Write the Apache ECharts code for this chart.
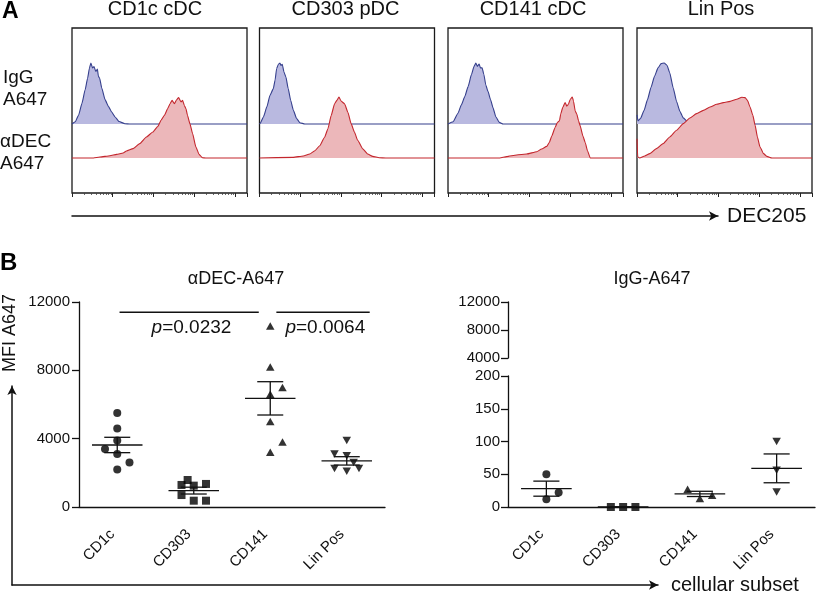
<!DOCTYPE html>
<html>
<head>
<meta charset="utf-8">
<script src="https://cdn.jsdelivr.net/npm/echarts@6/dist/echarts.min.js"></script>
<style>html,body{margin:0;padding:0;background:#fff}#c{width:817px;height:595px}</style>
</head>
<body>
<div id="c"></div>
<script>
// ---------------- DATA ----------------
const boxTitles = ['CD1c cDC', 'CD303 pDC', 'CD141 cDC', 'Lin Pos'];
// histograms: [x (% of axis width), y (% of mode)]
const histIgG_CD1c = [[0,0],[1.9,3.8],[3.8,14.8],[5.7,34],[7.5,56],[8.9,75],[10,92],[10.8,100],[11.7,92],[12.6,94],[13.6,86],[14.5,90],[15.1,78],[15.8,75],[17,59],[18.9,40],[20.8,29],[22.6,20],[24.5,12],[26.9,4],[30.2,0.5],[33,0],[100,0]];
const histDEC_CD1c = [[0,0],[12.3,0],[16,1.6],[21.7,3.8],[25.5,6],[29.2,8.2],[31.1,11.5],[34.9,15.3],[38.7,23.5],[42.5,34.4],[46.2,42.6],[49.1,52],[50.9,62],[52.8,70],[54.7,81],[56,89],[57.2,94.5],[58.5,89],[59.8,95.6],[60.9,99],[62.3,92],[63.2,94.5],[64.2,86],[65.1,81],[66,70],[67.4,56],[68.9,40],[70.8,18],[72.6,6],[74.5,0.5],[76.4,0],[100,0]];
const histIgG_CD303 = [[0,0],[0.4,1],[2.3,12],[4.2,28],[6,47],[7.9,58],[8.9,72],[9.8,91],[10.8,98],[11.7,100],[12.3,96],[13,98],[14,85],[15.1,77],[16.4,58],[17.8,39],[19.3,23],[21.2,9],[23.1,2],[25.9,0],[100,0]];
const histDEC_CD303 = [[0,0],[19.3,1.1],[25,3.3],[28.7,6.6],[31.6,12],[34.4,20],[37.2,34],[39.1,48],[41,70],[42.9,89],[44.2,94.5],[45.4,100],[46.7,93],[48.6,89],[50.5,75],[52.4,56],[54.3,42],[56.1,29],[59,15],[61.8,6.6],[64.7,2.7],[68.4,0.5],[72.2,0],[100,0]];
const histIgG_CD141 = [[0,0],[2.9,3.8],[5.7,17.6],[7.6,31],[9.6,45],[11.5,61.5],[13.4,81],[14.9,94.5],[15.9,100],[16.8,94.5],[17.8,98.4],[18.5,92],[19.5,92],[20.5,81],[21.6,64],[22.9,53],[24.3,40],[25.8,26],[27.3,12],[29.3,2.7],[31.5,0],[100,0]];
const histDEC_CD141 = [[0,0],[29.6,0],[33.5,2.2],[39.2,4.9],[44.9,6.5],[50.7,10.3],[53.5,14.7],[56.4,19],[57.9,25.5],[59.3,36],[61.2,50],[62.5,58],[63.7,61],[64.4,72],[65.6,83],[66.9,91],[67.9,85],[68.8,88],[69.8,96],[71,100],[71.7,93.5],[72.7,77],[73.6,72],[74.6,61],[75.5,53],[77.1,36],[78.4,25.5],[79.7,12],[81.3,0],[100,0]];
const histIgG_Lin = [[0,15],[0.6,5],[2,9],[4,22],[6,40],[8,60],[10,78],[12,92],[13.8,99],[15.5,100],[17.2,96],[18.7,84],[20.7,59],[22.6,37],[24.5,21],[26.4,10],[29.3,3],[33,0.5],[36,0],[100,0]];
const histDEC_Lin = [[0,31.7],[0.4,2],[1.5,0],[4.4,3.3],[7.3,7.1],[11.1,15.3],[14.9,23.5],[18.7,34.4],[22.6,45.4],[26.4,56.3],[30.2,65.6],[34,72.7],[37.9,78.1],[41.7,83.6],[45.5,88],[49.3,90.7],[53.2,92.9],[57,96.2],[59.9,99.5],[61.8,98.9],[63.1,94.5],[64.6,83.6],[66.2,69.9],[67.5,53.6],[68.8,34.4],[70.3,18],[72.3,7.1],[74.2,2.7],[77.1,0],[100,0]];

const categories = ['CD1c', 'CD303', 'CD141', 'Lin Pos'];
const decValues = [
  [5500, 4600, 3900, 3400, 3100, 2600, 2200],
  [1580, 1290, 1250, 1350, 700, 370, 370],
  [10600, 8200, 7000, 6600, 5000, 3800, 3200],
  [3900, 3100, 3000, 2600, 2250, 2100, 2250]
];
const decJitter = [
  [0, 0, 0, -0.16, 0, 0.16, 0],
  [-0.08, -0.16, 0, 0.16, -0.16, 0, 0.16],
  [0, 0, 0.16, 0, 0, 0.16, 0],
  [0, -0.16, 0, 0.09, -0.16, 0, 0.16]
];
const decMean = [3630, 960, 6360, 2700];
const decSem = [450, 200, 975, 245];
const igValues = [[50, 22, 12], [0, 0, 0], [27, 13, 18], [100, 56, 23]];
const igJitter = [[0, 0.16, 0], [-0.16, 0, 0.16], [-0.16, 0, 0.16], [0, 0, 0]];
const igMean = [28, 0, 20, 59];
const igSem = [11.5, 0, 4, 22];
const sigBars = [[0.03, 1.85, 11400], [2.08, 3.3, 11400]];
const pTextPos = [[0.97, 10500], [2.72, 10500]];
const pValues = ['0.0232', '0.0064'];
const decTicks = {min: 0, max: 12000, interval: 4000};
const igLowTicks = {min: 0, max: 200, interval: 50};
const igHighTicks = {min: 4000, max: 12000, interval: 4000};

// ---------------- CHART ----------------
const FF = '"Liberation Sans", Arial, sans-serif';
const INK = '#111';
const chart = echarts.init(document.getElementById('c'), null, {renderer: 'canvas'});

const grid = [], xAxis = [], yAxis = [], series = [], graphic = [];
function addGrid(g) { grid.push(g); return grid.length - 1; }
function addX(a) { xAxis.push(a); return xAxis.length - 1; }
function addY(a) { yAxis.push(a); return yAxis.length - 1; }

// ---- Panel A: histograms ----
const boxLeft = [72, 259.5, 448, 637];
const boxW = 175, boxTop = 28, boxH = 165;
const hists = [[histIgG_CD1c, histDEC_CD1c], [histIgG_CD303, histDEC_CD303], [histIgG_CD141, histDEC_CD141], [histIgG_Lin, histDEC_Lin]];
const boxTitleX = [155, 345.5, 533, 721];
for (let b = 0; b < 4; b++) {
  const gf = addGrid({left: boxLeft[b], top: boxTop, width: boxW, height: boxH, show: true, borderColor: '#1a1a1a', borderWidth: 1.3, backgroundColor: 'transparent'});
  addX({type: 'log', gridIndex: gf, min: 1, max: 20000, position: 'bottom', axisLine: {show: false},
    axisTick: {show: true, length: 4, lineStyle: {color: '#222', width: 1}},
    minorTick: {show: true, splitNumber: 9, length: 2, lineStyle: {color: '#444', width: 0.8}},
    axisLabel: {show: false}, splitLine: {show: false}});
  addY({type: 'value', gridIndex: gf, show: false});
  const specs = [{top: 63, line: '#353f8c', fill: '#b9b9e0', z: 3}, {top: 97, line: '#c3262d', fill: '#ecb7ba', z: 4}];
  for (let k = 0; k < 2; k++) {
    const g = addGrid({left: boxLeft[b], top: specs[k].top, width: boxW, height: 61});
    const xi = addX({type: 'value', gridIndex: g, min: 0, max: 100, show: false});
    const yi = addY({type: 'value', gridIndex: g, min: 0, max: 100, show: false});
    series.push({type: 'line', xAxisIndex: xi, yAxisIndex: yi, data: hists[b][k], symbol: 'none', clip: false,
      smooth: 0.15, smoothMonotone: 'x', z: specs[k].z,
      lineStyle: {color: specs[k].line, width: 1.1}, areaStyle: {color: specs[k].fill, opacity: 1, origin: 'start'}});
  }
  graphic.push({type: 'text', x: boxTitleX[b], y: 9, style: {text: boxTitles[b], font: '20px ' + FF, fill: INK, align: 'center', verticalAlign: 'middle'}});
}
// DEC205 arrow axis
const gA = addGrid({left: 72, top: 216, width: 646, height: 10});
addX({type: 'value', gridIndex: gA, position: 'top', min: 0, max: 1,
  axisLine: {show: true, onZero: false, symbol: ['none', 'arrow'], symbolSize: [7, 9], lineStyle: {color: INK, width: 1.5}},
  axisTick: {show: false}, axisLabel: {show: false}, splitLine: {show: false},
  name: 'DEC205', nameLocation: 'end', nameGap: 9, nameTextStyle: {fontSize: 21, fontFamily: FF, color: INK, verticalAlign: 'middle'}});
addY({type: 'value', gridIndex: gA, show: false});

// ---- Panel B ----
const axisStyle = {onZero: false, lineStyle: {color: INK, width: 1.3}};
const tickLbl = {fontSize: 15, fontFamily: FF, color: INK};
const plain = v => String(v);
function valueAxis(gi, ticks, margin) {
  return Object.assign({type: 'value', gridIndex: gi, position: 'left',
    axisLine: {show: true, onZero: false, lineStyle: {color: INK, width: 1.3}},
    axisTick: {show: true, length: 7, lineStyle: {color: INK, width: 1.3}},
    axisLabel: Object.assign({margin: margin, formatter: plain}, tickLbl), splitLine: {show: false}}, ticks);
}
function catAxis(gi) {
  return {type: 'category', gridIndex: gi, data: categories, boundaryGap: true, position: 'bottom', axisLine: axisStyle,
    axisTick: {alignWithLabel: true, length: 6, lineStyle: {color: INK, width: 1.3}},
    axisLabel: Object.assign({rotate: 45, margin: 20, padding: [0, 7, 0, 0], interval: 0}, tickLbl), splitLine: {show: false}};
}
// left plot
const gL = addGrid({left: 79, top: 302, width: 306, height: 205});
addX(catAxis(gL));
const xLv = addX({type: 'value', gridIndex: gL, min: -0.5, max: 3.5, show: false});
const yL = addY(valueAxis(gL, decTicks, 9));
// right lower
const gR = addGrid({left: 508, top: 376, width: 307, height: 131});
addX(catAxis(gR));
const xRv = addX({type: 'value', gridIndex: gR, min: -0.5, max: 3.5, show: false});
const yR = addY(valueAxis(gR, igLowTicks, 8));
// right upper (broken axis)
const gRU = addGrid({left: 508, top: 302, width: 307, height: 56});
addX({type: 'value', gridIndex: gRU, show: false});
addY(valueAxis(gRU, igHighTicks, 8));
// big B arrows
const gB = addGrid({left: 12, top: 386, width: 646, height: 202});
addX({type: 'value', gridIndex: gB, min: 0, max: 1, position: 'bottom',
  axisLine: {show: true, onZero: false, symbol: ['none', 'arrow'], symbolSize: [7, 9], lineStyle: {color: INK, width: 1.5}},
  axisTick: {show: false}, axisLabel: {show: false}, splitLine: {show: false},
  name: 'cellular subset', nameLocation: 'end', nameGap: 13, nameTextStyle: {fontSize: 20, fontFamily: FF, color: INK, verticalAlign: 'middle'}});
addY({type: 'value', gridIndex: gB, min: 0, max: 1, position: 'left',
  axisLine: {show: true, onZero: false, symbol: ['none', 'arrow'], symbolSize: [7, 9], lineStyle: {color: INK, width: 1.5}},
  axisTick: {show: false}, axisLabel: {show: false}, splitLine: {show: false}});

const symbols = ['circle', 'rect', 'triangle', 'triangle'];
const symRot = [0, 0, 0, 180];
const symSize = [8, 8, [8.5, 7.5], [8.5, 7.5]];
function addScatter(values, jitter, xi, yi) {
  for (let k = 0; k < 4; k++) {
    series.push({type: 'scatter', xAxisIndex: xi, yAxisIndex: yi, z: 5, clip: false,
      data: values[k].map((v, j) => [k + jitter[k][j], v]),
      symbol: symbols[k], symbolRotate: symRot[k], symbolSize: symSize[k],
      itemStyle: {color: '#000'}, emphasis: {disabled: true}});
  }
}
function errRender(params, api) {
  const x = api.value(0), m = api.value(1), s = api.value(2);
  const L = (a, b) => ({type: 'line', shape: {x1: a[0], y1: a[1], x2: b[0], y2: b[1]}, style: {stroke: INK, lineWidth: 1.3}});
  const c = (dx, v) => api.coord([x + dx, v]);
  return {type: 'group', children: [
    L(c(-0.33, m), c(0.33, m)),
    L(c(-0.17, m + s), c(0.17, m + s)),
    L(c(-0.17, m - s), c(0.17, m - s)),
    L(c(0, m - s), c(0, m + s))
  ]};
}
function addErr(mean, sem, xi, yi) {
  series.push({type: 'custom', xAxisIndex: xi, yAxisIndex: yi, z: 6, clip: false,
    data: mean.map((m, i) => [i, m, sem[i]]), renderItem: errRender});
}
addScatter(decValues, decJitter, xLv, yL);
addErr(decMean, decSem, xLv, yL);
addScatter(igValues, igJitter, xRv, yR);
addErr(igMean, igSem, xRv, yR);
// significance bars + p values
series.push({type: 'custom', xAxisIndex: xLv, yAxisIndex: yL, z: 6, clip: false,
  data: sigBars.map((s, i) => [s[0], s[1], s[2], pTextPos[i][0], pTextPos[i][1]]),
  renderItem: function (params, api) {
    const a = api.coord([api.value(0), api.value(2)]);
    const b = api.coord([api.value(1), api.value(2)]);
    const t = api.coord([api.value(3), api.value(4)]);
    return {type: 'group', children: [
      {type: 'line', shape: {x1: a[0], y1: a[1], x2: b[0], y2: b[1]}, style: {stroke: INK, lineWidth: 1.3}},
      {type: 'text', x: t[0], y: t[1], style: {text: '{i|p}{n|=' + pValues[params.dataIndex] + '}',
        rich: {i: {fontSize: 19, fontFamily: FF, fontStyle: 'italic', fill: INK}, n: {fontSize: 19, fontFamily: FF, fill: INK}},
        align: 'center', verticalAlign: 'middle'}}
    ]};
  }});

// texts
graphic.push(
  {type: 'text', x: 2, y: 12, style: {text: 'A', font: 'bold 23px ' + FF, fill: '#000', verticalAlign: 'middle'}},
  {type: 'text', x: 0, y: 263, style: {text: 'B', font: 'bold 24px ' + FF, fill: '#000', verticalAlign: 'middle'}},
  {type: 'text', x: 3, y: 78, style: {text: 'IgG', font: '19px ' + FF, fill: INK, verticalAlign: 'middle'}},
  {type: 'text', x: 3, y: 100, style: {text: 'A647', font: '19px ' + FF, fill: INK, verticalAlign: 'middle'}},
  {type: 'text', x: 0, y: 142, style: {text: 'αDEC', font: '19px ' + FF, fill: INK, verticalAlign: 'middle'}},
  {type: 'text', x: 0, y: 164, style: {text: 'A647', font: '19px ' + FF, fill: INK, verticalAlign: 'middle'}},
  {type: 'text', x: 236, y: 279, style: {text: 'αDEC-A647', font: '18px ' + FF, fill: INK, align: 'center', verticalAlign: 'middle'}},
  {type: 'text', x: 652, y: 279, style: {text: 'IgG-A647', font: '18px ' + FF, fill: INK, align: 'center', verticalAlign: 'middle'}},
  {type: 'text', x: 10, y: 333, rotation: Math.PI / 2, style: {text: 'MFI A647', font: '18px ' + FF, fill: INK, align: 'center', verticalAlign: 'middle'}}
);

chart.setOption({
  animation: false,
  backgroundColor: '#fff',
  textStyle: {fontFamily: FF},
  grid, xAxis, yAxis, series, graphic
});
</script>
</body>
</html>
